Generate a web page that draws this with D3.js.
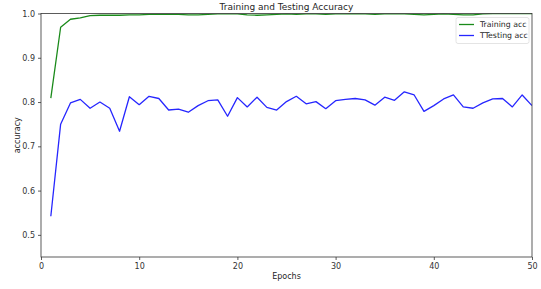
<!DOCTYPE html>
<html>
<head>
<meta charset="utf-8">
<script src="https://cdn.jsdelivr.net/npm/d3@7"></script>
<style>
  body { margin: 0; background: #fff; }
  text { font-family: "DejaVu Sans", sans-serif; fill: #262626; }
</style>
</head>
<body>
<div id="chart"></div>
<script>
// Data
var epochs = d3.range(1, 51);
var trainingAcc = [
  0.809, 0.969, 0.987, 0.990, 0.995, 0.996, 0.996, 0.996, 0.997, 0.997,
  0.998, 0.998, 0.998, 0.998, 0.997, 0.997, 0.998, 0.999, 0.999, 0.999,
  0.997, 0.996, 0.997, 0.998, 0.999, 0.998, 0.999, 0.999, 0.998, 0.999,
  0.999, 1.000, 0.999, 0.998, 0.999, 0.999, 0.999, 0.998, 0.997, 0.998,
  0.999, 0.998, 0.997, 0.997, 0.999, 1.000, 1.000, 1.000, 1.000, 1.000
];
var testingAcc = [
  0.542, 0.750, 0.798, 0.806, 0.786, 0.800, 0.786, 0.734, 0.812, 0.794,
  0.813, 0.808, 0.782, 0.784, 0.777, 0.792, 0.803, 0.805, 0.768, 0.810,
  0.789, 0.811, 0.788, 0.782, 0.801, 0.813, 0.796, 0.801, 0.785, 0.803,
  0.806, 0.808, 0.805, 0.793, 0.811, 0.804, 0.823, 0.816, 0.779, 0.792,
  0.807, 0.816, 0.789, 0.786, 0.798, 0.807, 0.808, 0.789, 0.816, 0.792
];
var xTicks = [0, 10, 20, 30, 40, 50];
var yTicks = [0.5, 0.6, 0.7, 0.8, 0.9, 1.0];
var seriesNames = ["Training acc", "TTesting acc"];
var seriesColors = ["#1a8a1a", "#2626ff"];

var margin = { top: 13.5, right: 9, bottom: 32, left: 41 };
var width = 541 - margin.left - margin.right;
var height = 289 - margin.top - margin.bottom;

var svg = d3
  .select("#chart")
  .append("svg")
  .attr("width", 541)
  .attr("height", 289);

var g = svg
  .append("g")
  .attr("transform", "translate(" + margin.left + "," + margin.top + ")");

var x = d3.scaleLinear().domain([0, 50]).range([0, width]);
var y = d3.scaleLinear().domain([0.45, 1.0]).range([height, 0]);

g.append("clipPath")
  .attr("id", "plot-clip")
  .append("rect")
  .attr("width", width)
  .attr("height", height);

// lines
var allSeries = [trainingAcc, testingAcc];
allSeries.forEach(function (vals, i) {
  g.append("path")
    .datum(vals)
    .attr("clip-path", "url(#plot-clip)")
    .attr("fill", "none")
    .attr("stroke", seriesColors[i])
    .attr("stroke-width", 1.3)
    .attr("stroke-linejoin", "round")
    .attr(
      "d",
      d3
        .line()
        .x(function (d, j) {
          return x(epochs[j]);
        })
        .y(function (d) {
          return y(d);
        })
    );
});

// axes
var xAxis = g
  .append("g")
  .attr("transform", "translate(0," + height + ")")
  .call(d3.axisBottom(x).tickValues(xTicks).tickFormat(d3.format("d")).tickSize(3).tickPadding(3));

var yAxis = g
  .append("g")
  .call(d3.axisLeft(y).tickValues(yTicks).tickFormat(d3.format(".1f")).tickSize(3).tickPadding(3));

[xAxis, yAxis].forEach(function (a) {
  a.selectAll("text").style("font-size", "8px").style("fill", "#333");
  a.selectAll("line").attr("stroke", "#333").attr("stroke-width", 0.8);
  a.select(".domain").remove();
});

// spines
g.append("rect")
  .attr("width", width)
  .attr("height", height)
  .attr("fill", "none")
  .attr("stroke", "#333")
  .attr("stroke-width", 0.8);

// title and labels
svg.append("text")
  .attr("x", margin.left + width / 2)
  .attr("y", 10)
  .attr("text-anchor", "middle")
  .style("font-size", "9px")
  .text("Training and Testing Accuracy");

svg.append("text")
  .attr("x", margin.left + width / 2)
  .attr("y", 279)
  .attr("text-anchor", "middle")
  .style("font-size", "8px")
  .text("Epochs");

svg.append("text")
  .attr("transform", "translate(20," + (margin.top + height / 2) + ") rotate(-90)")
  .attr("text-anchor", "middle")
  .style("font-size", "8px")
  .text("accuracy");

// legend
var legend = g.append("g").attr("transform", "translate(" + (width - 76) + ",4)");
legend.append("rect")
  .attr("width", 73)
  .attr("height", 26)
  .attr("rx", 2)
  .attr("fill", "#fff")
  .attr("fill-opacity", 0.8)
  .attr("stroke", "#ddd")
  .attr("stroke-width", 0.8);

seriesNames.forEach(function (name, i) {
  var row = legend.append("g").attr("transform", "translate(0," + (7 + i * 11) + ")");
  row.append("line")
    .attr("x1", 3)
    .attr("x2", 18)
    .attr("stroke", seriesColors[i])
    .attr("stroke-width", 1.3);
  row.append("text")
    .attr("x", 24)
    .attr("dy", "0.32em")
    .style("font-size", "7.8px")
    .text(name);
});
</script>
</body>
</html>
